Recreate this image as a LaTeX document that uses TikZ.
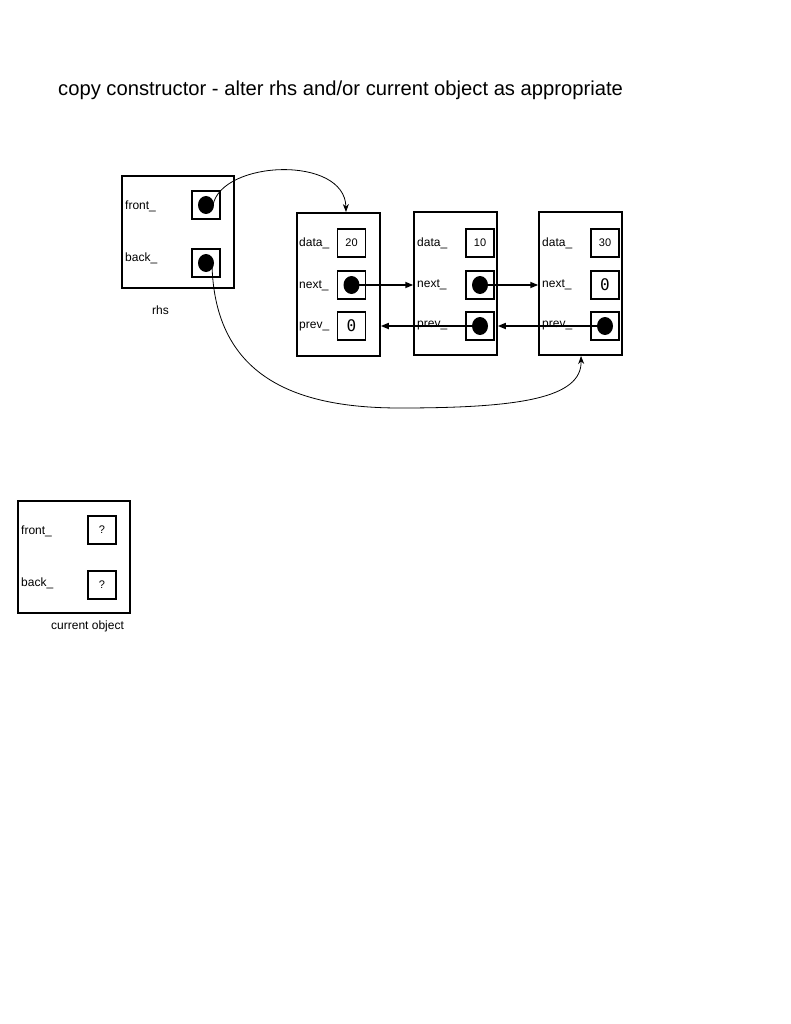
\documentclass[tikz,border=0pt]{standalone}
\usepackage{fontspec}
\setmainfont{Liberation Sans}
\newfontfamily\zerofont{DejaVu Sans Mono}
\usetikzlibrary{arrows.meta}
\begin{document}
\begin{tikzpicture}[x=1pt,y=-1pt,
  outer/.style={draw, line width=1.5pt, inner sep=0pt, minimum width=#1},
  cell/.style={draw, line width=1.5pt, inner sep=0pt, minimum width=28pt, minimum height=28pt, font=\fontsize{11}{13}\selectfont},
  lbl/.style={anchor=west, inner sep=0pt, font=\fontsize{12}{14}\selectfont},
  zero/.style={font=\zerofont\fontsize{16}{18}\selectfont},
  dotp/.style={fill=black},
  ptr/.style={line width=1.6pt, -{Triangle[length=8pt,width=6pt]}},
  curve/.style={line width=0.8pt, -{Stealth[length=8pt,width=6pt]}}
]
\useasboundingbox (0,0) rectangle (791,1024);
\node[anchor=west, inner sep=0pt, font=\fontsize{20.2}{23}\selectfont] (title) at (58,90) {copy constructor - alter rhs and/or current object as appropriate};

% rhs object
\node[outer=112pt, minimum height=112pt] (rhs) at (178,232) {};
\node[lbl] (rhsfl) at (125,206) {front\_};
\node[lbl] (rhsbl) at (125,258) {back\_};
\node[cell] (rhsf) at (206,205) {};
\node[cell] (rhsb) at (206,263) {};
\fill[dotp] (rhsf.center) ellipse (8pt and 9pt);
\fill[dotp] (rhsb.center) ellipse (8pt and 9pt);
\node[lbl] (rhsname) at (152,310) {rhs};

% list node 1
\node[outer=83pt, minimum height=143pt] (n1) at (338.5,284.5) {};
\node[lbl] (n1dl) at (299,243) {data\_};
\node[lbl] (n1nl) at (299,286) {next\_};
\node[lbl] (n1pl) at (299,327) {prev\_};
\node[cell] (n1d) at (351.5,243) {20};
\node[cell] (n1n) at (351.5,285) {};
\node[cell,zero] (n1p) at (351.5,326) {0};
\fill[dotp] (n1n.center) ellipse (8pt and 9pt);

% list node 2
\node[outer=83pt, minimum height=143pt] (n2) at (455.5,283.5) {};
\node[lbl] (n2dl) at (417,243) {data\_};
\node[lbl] (n2nl) at (417,285) {next\_};
\node[lbl] (n2pl) at (417,326) {prev\_};
\node[cell] (n2d) at (480,243) {10};
\node[cell] (n2n) at (480,285) {};
\node[cell] (n2p) at (480,326) {};
\fill[dotp] (n2n.center) ellipse (8pt and 9pt);
\fill[dotp] (n2p.center) ellipse (8pt and 9pt);

% list node 3
\node[outer=83pt, minimum height=143pt] (n3) at (580.5,283.5) {};
\node[lbl] (n3dl) at (542,243) {data\_};
\node[lbl] (n3nl) at (542,285) {next\_};
\node[lbl] (n3pl) at (542,326) {prev\_};
\node[cell] (n3d) at (605,243) {30};
\node[cell,zero] (n3n) at (605,285) {0};
\node[cell] (n3p) at (605,326) {};
\fill[dotp] (n3p.center) ellipse (8pt and 9pt);

% pointers
\draw[ptr] (n1n.center) -- (n2.west |- n1n.center);
\draw[ptr] (n2n.center) -- (n3.west |- n2n.center);
\draw[ptr] (n2p.center) -- (n1.east |- n2p.center);
\draw[ptr] (n3p.center) -- (n2.east |- n3p.center);

\coordinate (n1top) at (346,212);
\coordinate (n3bot) at (581,356);
\coordinate (fstart) at (213,205);
\coordinate (bstart) at (212,265);
\coordinate (bmid) at (400,408);
\draw[curve] (fstart) .. controls (222,160) and (345,155) .. (n1top);
\draw[curve] (bstart) .. controls (215,380) and (300,408) .. (bmid) .. controls (520,408) and (582,398) .. (n3bot);

% current object
\node[outer=112pt, minimum height=112pt] (cur) at (74,557) {};
\node[lbl] (curfl) at (21,531) {front\_};
\node[lbl] (curbl) at (21,583) {back\_};
\node[cell] (curf) at (102,530) {?};
\node[cell] (curb) at (102,585) {?};
\node[lbl] (curname) at (51,626) {current object};
\end{tikzpicture}
\end{document}
